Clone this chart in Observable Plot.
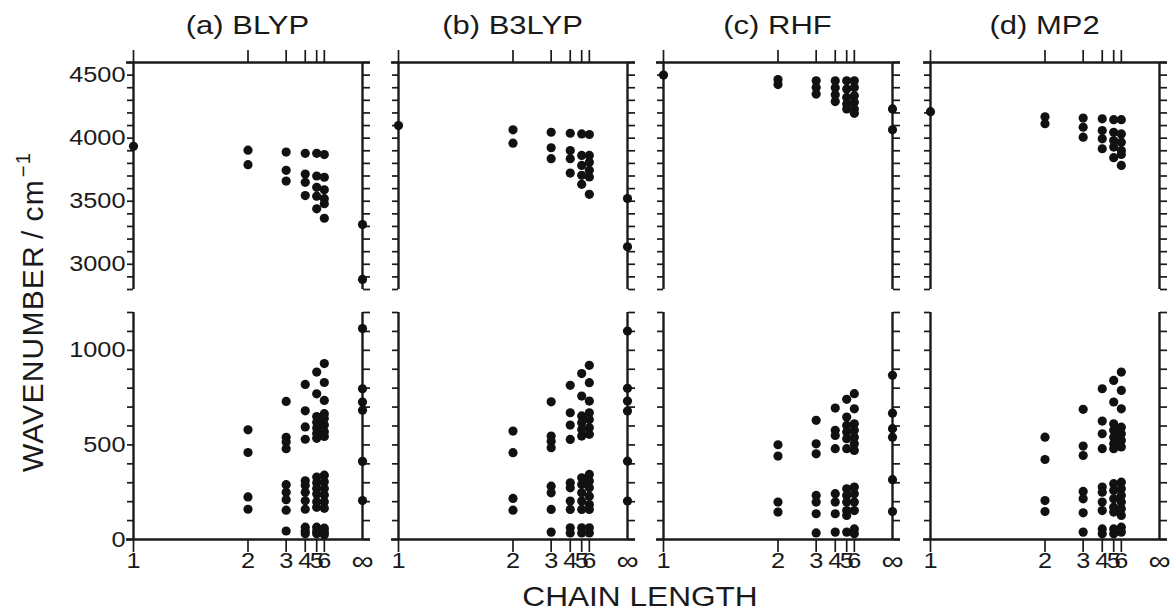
<!DOCTYPE html>
<html><head><meta charset="utf-8">
<script src="https://cdn.jsdelivr.net/npm/d3@7"></script>
<script src="https://cdn.jsdelivr.net/npm/@observablehq/plot@0.6"></script>
<style>
html,body{margin:0;padding:0;background:#fff;}
#fig{position:relative;width:1171px;height:614px;overflow:hidden;background:#fff;font-family:"Liberation Sans",Arial,Helvetica,sans-serif;}
#fig svg{position:absolute;}
</style></head><body><div id="fig"></div>
<script>
// ---------- data ----------
const methods = ["(a) BLYP", "(b) B3LYP", "(c) RHF", "(d) MP2"];
const chainLengths = [1, 2, 3, 4, 5, 6, Infinity];
const chainLabels = ["1", "2", "3", "4", "5", "6", "∞"];
const highTicks = d3.range(2800, 4601, 100);
const highLabelTicks = [3000, 3500, 4000, 4500];
const lowTicks = d3.range(0, 1201, 100);
const lowLabelTicks = [0, 500, 1000];
const highDomain = [2800, 4600];
const lowDomain = [0, 1200];

// wavenumbers (cm^-1), one inner list per chain length 1..6, ∞
const blypHigh = [[3935],[3905,3790],[3890,3745,3660],[3880,3715,3650,3545],[3880,3700,3610,3540,3440],[3870,3690,3590,3520,3480,3365],[3315,2880]];
const blypLow = [[],[580,460,225,160],[730,540,515,480,290,250,210,155,45],[820,680,595,530,310,285,250,205,160,65,45,30],[885,770,650,620,590,560,535,330,300,270,240,200,170,65,45,30],[930,830,735,665,640,605,570,545,340,305,270,235,200,165,60,40,25],[1115,797,727,683,413,206]];
const b3lypHigh = [[4100],[4066,3960],[4047,3924,3837],[4039,3902,3837,3723],[4034,3863,3784,3705,3634],[4029,3863,3810,3745,3692,3555],[3521,3139]];
const b3lypLow = [[],[573,459,217,155],[728,547,520,485,282,247,159,39],[815,670,605,529,300,273,203,159,62,35],[877,758,653,617,582,547,326,291,247,203,159,62,35],[921,829,732,670,635,591,556,344,309,273,229,185,159,62,35],[1102,799,732,679,414,203]];
const rhfHigh = [[4500],[4465,4425],[4455,4402,4350],[4455,4400,4345,4290],[4455,4390,4323,4271,4232],[4455,4402,4337,4284,4232,4197],[4232,4066]];
const rhfLow = [[],[501,441,198,145],[630,506,453,233,198,136,35],[695,577,550,480,242,198,136,39],[741,647,603,568,533,480,268,233,198,153,127,39],[771,691,612,577,541,506,471,277,242,198,153,56,30],[868,668,586,541,316,148]];
const mp2High = [[4210],[4170,4115],[4160,4087,4008],[4153,4060,3995,3916],[4147,4047,3981,3929,3845],[4147,4034,3968,3902,3871,3784],[]];
const mp2Low = [[],[541,423,206,148],[688,494,444,254,215,141,39],[797,626,559,480,277,250,198,153,56,30],[841,727,612,577,541,506,480,295,259,215,171,145,56,30],[885,788,691,594,559,524,489,303,268,233,198,162,127,65,39],[]];

const highSets = [blypHigh, b3lypHigh, rhfHigh, mp2High];
const lowSets = [blypLow, b3lypLow, rhfLow, mp2Low];

// ---------- layout ----------
const fig = document.getElementById("fig");
const panelLefts = [133, 398, 663, 930];
const PW = 229, PH = 227;
const highTop = 62, lowTop = 312;
const INK = "#1a1a1a";
const FONT = '"Liberation Sans", Arial, Helvetica, sans-serif';
const pos = n => 1 - 1 / n;           // x = 1 - 1/n, n = ∞ -> 1
const xTickPos = chainLengths.slice(0, 6).map(pos);
const xInfPos = [pos(Infinity)];

function toRows(sets) {
  const rows = [];
  sets.forEach((vals, k) => vals.forEach(v => rows.push({n: chainLengths[k], v})));
  return rows;
}

function stretchText(svg, s) {
  svg.querySelectorAll("text").forEach(t => {
    const tr = t.getAttribute("transform");
    if (tr && tr.includes("translate")) t.setAttribute("transform", tr + ` scale(${s},1)`);
    else {
      const x = +(t.getAttribute("x") || 0), y = +(t.getAttribute("y") || 0);
      t.removeAttribute("x"); t.removeAttribute("y");
      t.setAttribute("transform", `translate(${x},${y}) scale(${s},1)` + (tr ? " " + tr : ""));
    }
  });
}

function panel(i, high) {
  const rows = toRows(high ? highSets[i] : lowSets[i]);
  const mL = 80, mR = 30, mT = high ? 30 : 10, mB = high ? 10 : 55;
  const ticks = high ? highTicks : lowTicks;
  const labelTicks = high ? highLabelTicks : lowLabelTicks;
  const yFmt = i === 0 ? (d => labelTicks.includes(d) ? String(d) : "") : (() => "");
  const marks = [
    Plot.ruleX([0, 1], {stroke: INK, strokeWidth: 2.4}),
    Plot.ruleY([high ? highDomain[1] : lowDomain[0]], {stroke: INK, strokeWidth: 2.4, insetLeft: -7, insetRight: -8}),
    Plot.axisY({ticks, anchor: "left", tickSize: 6, tickPadding: 2, tickFormat: yFmt, stroke: INK, strokeWidth: 1.7, label: null}),
    Plot.axisY({ticks, anchor: "right", tickSize: 7, tickFormat: () => "", stroke: INK, strokeWidth: 1.7, label: null})
  ];
  if (high) {
    marks.push(Plot.axisX({ticks: xTickPos, anchor: "top", tickSize: 13, tickFormat: () => "", stroke: INK, strokeWidth: 1.7, label: null}));
  } else {
    marks.push(Plot.axisX({ticks: xTickPos, anchor: "bottom", tickSize: 13, tickPadding: 0, tickFormat: d => chainLabels[xTickPos.indexOf(d)], stroke: INK, strokeWidth: 1.7, label: null}));
    marks.push(Plot.axisX({ticks: xInfPos, anchor: "bottom", tickSize: 0, tickPadding: 11, fontSize: 27, tickFormat: () => chainLabels[6], label: null}));
  }
  marks.push(Plot.dot(rows, {x: d => pos(d.n), y: "v", r: 4.6, fill: "#111", stroke: "none"}));
  const svg = Plot.plot({
    width: PW + mL + mR, height: PH + mT + mB,
    marginLeft: mL, marginRight: mR, marginTop: mT, marginBottom: mB,
    x: {domain: [0, 1], axis: null},
    y: {domain: high ? highDomain : lowDomain, axis: null},
    style: {background: "transparent", overflow: "visible", maxWidth: "none", fontSize: "22px",
            fontFamily: FONT, color: INK},
    marks
  });
  stretchText(svg, 1.15);
  svg.style.left = (panelLefts[i] - mL) + "px";
  svg.style.top = ((high ? highTop : lowTop) - mT) + "px";
  fig.appendChild(svg);
}

for (let i = 0; i < 4; i++) { panel(i, true); panel(i, false); }

// ---------- titles & axis labels ----------
const ov = d3.select(fig).append("svg")
  .attr("width", 1171).attr("height", 614)
  .style("left", "0px").style("top", "0px").style("overflow", "visible")
  .attr("font-family", FONT)
  .attr("fill", INK);

methods.forEach((m, i) => {
  const cx = panelLefts[i] + PW / 2;
  ov.append("text").attr("text-anchor", "middle").attr("font-size", 25)
    .attr("transform", `translate(${cx},34) scale(1.24,1)`).text(m);
});

ov.append("text").attr("text-anchor", "middle").attr("font-size", 27.5)
  .attr("transform", "translate(640,606) scale(1.15,1)").text("CHAIN LENGTH");

const yl = ov.append("text").attr("text-anchor", "middle").attr("font-size", 30)
  .attr("letter-spacing", 1.2)
  .attr("transform", "translate(43,312) rotate(-90)");
yl.append("tspan").text("WAVENUMBER");
yl.append("tspan").attr("dx", 6).text("/");
yl.append("tspan").attr("dx", 8).text("cm");
yl.append("tspan").attr("font-size", 20).attr("dx", 2).attr("dy", -13).text("−1");
</script></body></html>
